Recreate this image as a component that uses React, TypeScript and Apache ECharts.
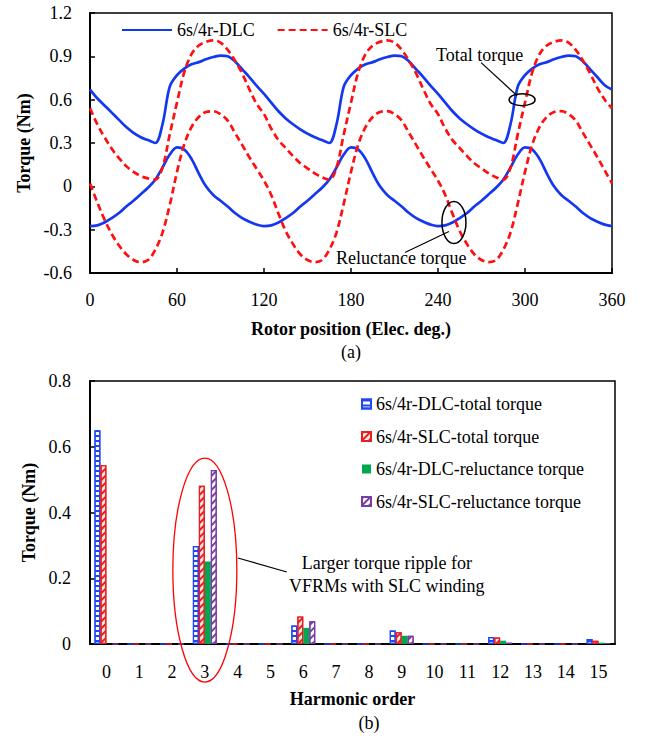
import React, { useEffect, useRef } from 'react';
import * as echarts from 'echarts';

const FONT = "'Liberation Serif', 'Times New Roman', serif";

// ---- (a) torque waveforms, sampled every 5 electrical degrees (0..360) ----
const rotorDeg: number[] = Array.from({ length: 73 }, (_, i) => i * 5);

const dlcTotal: number[] = [
  0.67, 0.61, 0.56, 0.51, 0.46, 0.41, 0.37, 0.34, 0.32, 0.30, 0.43, 0.69,
  0.77, 0.815, 0.845, 0.86, 0.88, 0.895, 0.905, 0.9, 0.865, 0.81, 0.755, 0.695,
  0.64, 0.58, 0.52, 0.47, 0.43, 0.395, 0.365, 0.34, 0.32, 0.30, 0.43, 0.69,
  0.77, 0.815, 0.845, 0.86, 0.88, 0.895, 0.905, 0.9, 0.865, 0.81, 0.755, 0.695,
  0.64, 0.58, 0.52, 0.47, 0.43, 0.395, 0.365, 0.34, 0.32, 0.30, 0.43, 0.69,
  0.77, 0.815, 0.845, 0.86, 0.88, 0.895, 0.905, 0.9, 0.865, 0.81, 0.755, 0.70,
  0.67,
];

const dlcReluctance: number[] = [
  -0.275, -0.27, -0.25, -0.22, -0.185, -0.14, -0.1, -0.055, -0.01, 0.045, 0.13, 0.22,
  0.27, 0.255, 0.19, 0.09, 0.0, -0.06, -0.1, -0.14, -0.185, -0.22, -0.245, -0.265,
  -0.275, -0.27, -0.25, -0.22, -0.185, -0.14, -0.1, -0.055, -0.01, 0.045, 0.13, 0.22,
  0.27, 0.255, 0.19, 0.09, 0.0, -0.06, -0.1, -0.14, -0.185, -0.22, -0.245, -0.265,
  -0.275, -0.27, -0.25, -0.22, -0.185, -0.14, -0.1, -0.055, -0.01, 0.045, 0.13, 0.22,
  0.27, 0.255, 0.19, 0.09, 0.0, -0.06, -0.1, -0.14, -0.185, -0.22, -0.245, -0.265,
  -0.275,
];

const slcTotal: number[] = [
  0.54, 0.43, 0.34, 0.26, 0.195, 0.14, 0.1, 0.072, 0.055, 0.046, 0.13, 0.36,
  0.58, 0.79, 0.915, 0.975, 1.0, 1.01, 0.995, 0.945, 0.87, 0.78, 0.67, 0.57,
  0.5, 0.4, 0.32, 0.265, 0.21, 0.16, 0.125, 0.09, 0.063, 0.046, 0.13, 0.36,
  0.58, 0.79, 0.915, 0.975, 1.0, 1.01, 0.995, 0.945, 0.87, 0.78, 0.67, 0.57,
  0.5, 0.4, 0.32, 0.265, 0.21, 0.16, 0.125, 0.09, 0.063, 0.046, 0.13, 0.36,
  0.58, 0.79, 0.915, 0.975, 1.0, 1.01, 0.995, 0.945, 0.87, 0.78, 0.68, 0.6,
  0.54,
];

const slcReluctance: number[] = [
  0.02, -0.11, -0.23, -0.33, -0.41, -0.47, -0.51, -0.525, -0.51, -0.44, -0.32, -0.13,
  0.1, 0.29, 0.41, 0.48, 0.515, 0.52, 0.5, 0.455, 0.37, 0.285, 0.2, 0.12,
  0.04, -0.06, -0.19, -0.31, -0.4, -0.47, -0.51, -0.525, -0.51, -0.44, -0.32, -0.12,
  0.1, 0.29, 0.41, 0.48, 0.515, 0.52, 0.5, 0.455, 0.37, 0.285, 0.2, 0.12,
  0.04, -0.06, -0.19, -0.31, -0.4, -0.47, -0.51, -0.525, -0.51, -0.44, -0.32, -0.12,
  0.1, 0.29, 0.41, 0.48, 0.515, 0.52, 0.5, 0.455, 0.37, 0.285, 0.2, 0.11,
  0.02,
];

// ---- (b) harmonic spectra ----
const harmonicOrder: string[] = ['0', '1', '2', '3', '4', '5', '6', '7', '8', '9', '10', '11', '12', '13', '14', '15'];
const dlcTotalH: number[] = [0.65, 0, 0, 0.298, 0, 0, 0.056, 0, 0, 0.041, 0, 0, 0.021, 0, 0, 0.015];
const slcTotalH: number[] = [0.544, 0, 0, 0.481, 0, 0, 0.084, 0, 0, 0.036, 0, 0, 0.02, 0, 0, 0.01];
const dlcRelH: number[] = [0, 0, 0, 0.251, 0, 0, 0.049, 0, 0, 0.025, 0, 0, 0.01, 0, 0, 0.004];
const slcRelH: number[] = [0, 0, 0, 0.529, 0, 0, 0.069, 0, 0, 0.025, 0, 0, 0.004, 0, 0, 0.003];

const DLC_NAME = '6s/4r-DLC';
const SLC_NAME = '6s/4r-SLC';
const BAR_NAMES = [
  '6s/4r-DLC-total torque',
  '6s/4r-SLC-total torque',
  '6s/4r-DLC-reluctance torque',
  '6s/4r-SLC-reluctance torque',
];

const BLUE = '#1437f0';
const RED = '#ff1010';
const BAR_BLUE = '#1f47f2';
const BAR_RED = '#ea1c24';
const BAR_GREEN = '#00a650';
const BAR_PURPLE = '#7a3da6';

const zip = (xs: number[], ys: number[]) => xs.map((x, i) => [x, ys[i]]);

const txt = { fontFamily: FONT, fontSize: 18, color: '#000' };

function buildOption(): any {
  const lineSeries = (name: string, data: number[], color: string, dashed: boolean) => ({
    name,
    type: 'line',
    xAxisIndex: 0,
    yAxisIndex: 0,
    data: zip(rotorDeg, data),
    smooth: 0.35,
    symbol: 'none',
    lineStyle: { color, width: 2.7, type: dashed ? [7, 4] : 'solid' },
    itemStyle: { color },
  });
  const stripe = (color: string) => ({
    symbol: 'rect',
    color,
    dashArrayX: [1, 0],
    dashArrayY: [2, 2.5],
    rotation: -Math.PI / 4,
  });
  const barSeries = (name: string, data: number[], itemStyle: any) => ({
    name,
    type: 'bar',
    xAxisIndex: 1,
    yAxisIndex: 1,
    data,
    barGap: '0%',
    barCategoryGap: '27%',
    itemStyle,
  });

  return {
    animation: false,
    backgroundColor: '#fff',
    textStyle: { fontFamily: FONT },
    grid: [
      { left: 90, top: 13, width: 522, height: 260, show: true, borderColor: '#000', borderWidth: 1.5, backgroundColor: 'transparent' },
      { left: 90, top: 381, width: 525, height: 263, show: true, borderColor: '#000', borderWidth: 1.5, backgroundColor: 'transparent' },
    ],
    legend: [
      {
        data: [DLC_NAME, SLC_NAME],
        left: 116,
        top: 16,
        itemWidth: 50,
        itemHeight: 12,
        itemGap: 22,
        itemStyle: { opacity: 0 },
        textStyle: { ...txt },
      },
      {
        data: BAR_NAMES,
        orient: 'vertical',
        left: 356,
        top: 390,
        itemWidth: 9,
        itemHeight: 9,
        itemGap: 14.5,
        icon: 'rect',
        textStyle: { ...txt },
      },
    ],
    xAxis: [
      {
        gridIndex: 0,
        type: 'value',
        min: 0,
        max: 360,
        interval: 60,
        name: 'Rotor position (Elec. deg.)',
        nameLocation: 'middle',
        nameGap: 47,
        nameTextStyle: { ...txt, fontWeight: 'bold' },
        axisLine: { onZero: false, lineStyle: { color: '#000', width: 2 } },
        axisTick: { inside: true, length: 5, lineStyle: { color: '#000', width: 1.5 } },
        axisLabel: { ...txt, margin: 18 },
        splitLine: { show: false },
      },
      {
        gridIndex: 1,
        type: 'category',
        data: harmonicOrder,
        name: 'Harmonic order',
        nameLocation: 'middle',
        nameGap: 46,
        nameTextStyle: { ...txt, fontWeight: 'bold' },
        axisLine: { onZero: false, lineStyle: { color: '#000', width: 2 } },
        axisTick: { inside: true, length: 5, alignWithLabel: false, lineStyle: { color: '#000', width: 1.5 } },
        axisLabel: { ...txt, margin: 19, interval: 0 },
        splitLine: { show: false },
      },
    ],
    yAxis: [
      {
        gridIndex: 0,
        type: 'value',
        min: -0.6,
        max: 1.2,
        interval: 0.3,
        name: 'Torque (Nm)',
        nameLocation: 'middle',
        nameGap: 54,
        nameTextStyle: { ...txt, fontWeight: 'bold' },
        axisLine: { show: true, onZero: false, lineStyle: { color: '#000', width: 2 } },
        axisTick: { show: true, inside: true, length: 5, lineStyle: { color: '#000', width: 1.5 } },
        axisLabel: { ...txt, margin: 18, formatter: (v: number) => String(Math.round(v * 10) / 10) },
        splitLine: { show: false },
      },
      {
        gridIndex: 1,
        type: 'value',
        min: 0,
        max: 0.8,
        interval: 0.2,
        name: 'Torque (Nm)',
        nameLocation: 'middle',
        nameGap: 50,
        nameTextStyle: { ...txt, fontWeight: 'bold' },
        axisLine: { show: true, onZero: false, lineStyle: { color: '#000', width: 2 } },
        axisTick: { show: true, inside: true, length: 5, lineStyle: { color: '#000', width: 1.5 } },
        axisLabel: { ...txt, margin: 19, formatter: (v: number) => String(Math.round(v * 10) / 10) },
        splitLine: { show: false },
      },
    ],
    series: [
      lineSeries(DLC_NAME, dlcTotal, BLUE, false),
      lineSeries(DLC_NAME, dlcReluctance, BLUE, false),
      lineSeries(SLC_NAME, slcTotal, RED, true),
      lineSeries(SLC_NAME, slcReluctance, RED, true),
      barSeries(BAR_NAMES[0], dlcTotalH, {
        color: '#ffffff',
        borderColor: BAR_BLUE,
        borderWidth: 1.2,
        decal: { symbol: 'rect', color: BAR_BLUE, dashArrayX: [1, 0], dashArrayY: [1.5, 2.5], rotation: 0 },
      }),
      barSeries(BAR_NAMES[1], slcTotalH, {
        color: '#fde9dc',
        borderColor: BAR_RED,
        borderWidth: 1.2,
        decal: stripe(BAR_RED),
      }),
      barSeries(BAR_NAMES[2], dlcRelH, {
        color: BAR_GREEN,
        borderColor: BAR_GREEN,
        borderWidth: 0,
      }),
      barSeries(BAR_NAMES[3], slcRelH, {
        color: '#ffffff',
        borderColor: BAR_PURPLE,
        borderWidth: 1.2,
        decal: stripe(BAR_PURPLE),
      }),
    ],
  };
}

export default function App() {
  const ref = useRef<HTMLDivElement>(null);
  useEffect(() => {
    const chart = echarts.init(ref.current!, null, { renderer: 'svg' });
    chart.setOption(buildOption());

    const px = (g: number, pt: any[]) => chart.convertToPixel({ gridIndex: g } as any, pt) as number[];
    // annotation anchors in data coordinates
    const eTot = px(0, [298, 0.6]);
    const eRel = px(0, [251, -0.25]);
    const eRip = px(1, [3, 0.225]);
    const aCenter = px(0, [180, -0.6]);
    const bCenter = px(1, [7.5, 0]);

    const T = (text: string, x: number, y: number, align: string = 'left', extra: any = {}) => ({
      type: 'text',
      style: {
        text, x, y,
        fontFamily: FONT, fontSize: 18, fill: '#000',
        align, verticalAlign: 'middle', textAlign: align, textVerticalAlign: 'middle',
        ...extra,
      },
      z: 100,
    });
    const L = (x1: number, y1: number, x2: number, y2: number, color = '#000') => ({
      type: 'line',
      shape: { x1, y1, x2, y2 },
      style: { stroke: color, lineWidth: 1.2 },
      z: 100,
    });

    chart.setOption({
      graphic: [
        { type: 'ellipse', shape: { cx: eTot[0], cy: eTot[1], rx: 13, ry: 6 }, style: { fill: 'none', stroke: '#000', lineWidth: 1.5 }, z: 100 },
        L(eTot[0] - 41, eTot[1] - 37, eTot[0] - 5, eTot[1] - 4),
        T('Total torque', eTot[0] - 86, eTot[1] - 45),
        { type: 'ellipse', shape: { cx: eRel[0], cy: eRel[1], rx: 12, ry: 21 }, style: { fill: 'none', stroke: '#000', lineWidth: 1.5 }, z: 100 },
        L(eRel[0] - 49, eRel[1] + 30, eRel[0] - 5, eRel[1] + 9),
        T('Reluctance torque', eRel[0] - 118, eRel[1] + 36),
        { type: 'ellipse', shape: { cx: eRip[0], cy: eRip[1], rx: 32, ry: 112 }, style: { fill: 'none', stroke: '#ff0000', lineWidth: 1.3 }, z: 100 },
        L(eRip[0] + 33, eRip[1] - 12, eRip[0] + 82, eRip[1] + 2),
        T('Larger torque ripple for', eRip[0] + 182, eRip[1] - 7, 'center'),
        T('VFRMs with SLC winding', eRip[0] + 182, eRip[1] + 16, 'center'),
        T('(a)', aCenter[0], aCenter[1] + 79, 'center'),
        T('(b)', bCenter[0], bCenter[1] + 79, 'center'),
      ],
    });
    return () => chart.dispose();
  }, []);
  return (
    <div
      ref={ref}
      style={{ position: 'absolute', left: 0, top: 0, width: 645, height: 736, background: '#fff' }}
    />
  );
}
